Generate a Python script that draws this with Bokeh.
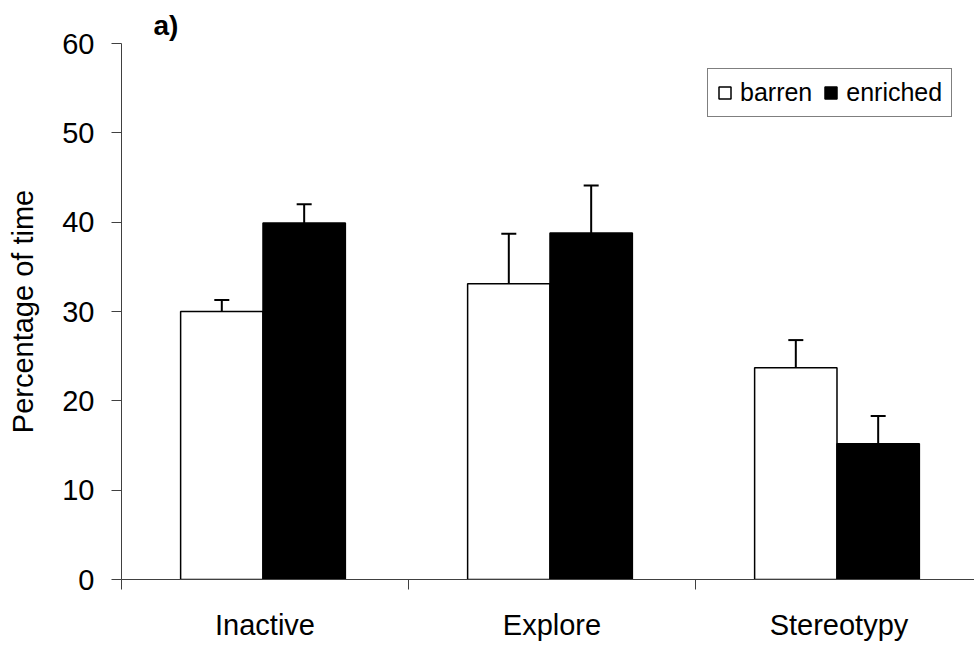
from bokeh.plotting import figure
from bokeh.models import (FixedTicker, Range1d, Whisker, ColumnDataSource,
                          Legend, LegendItem, TeeHead)
from bokeh.embed import file_html
from bokeh.resources import INLINE

# ---- data ----
categories = ["Inactive", "Explore", "Stereotypy"]
barren = [30.0, 33.1, 23.7]
barren_err = [1.3, 5.6, 3.1]
enriched = [39.9, 38.8, 15.2]
enriched_err = [2.1, 5.3, 3.1]
y_ticks = [0, 10, 20, 30, 40, 50, 60]

FONT = "Liberation Sans"
W, H = 974, 645
LEFT, TOP, FRAME_H = 121, 43, 536

p = figure(width=W, height=H, output_backend="svg", toolbar_location=None,
           x_range=Range1d(0, (W - LEFT) / 287.0), y_range=Range1d(0, 60),
           min_border_left=LEFT, min_border_right=0, min_border_top=TOP,
           min_border_bottom=H - TOP - FRAME_H)

centers = [i + 0.5 for i in range(len(categories))]
BAR_W = 0.287
SHIFT = -0.007
bx = [c + SHIFT - BAR_W / 2 for c in centers]
ex = [c + SHIFT + BAR_W / 2 for c in centers]

src_b = ColumnDataSource(dict(x=bx, top=barren,
                              upper=[v + e for v, e in zip(barren, barren_err)]))
src_e = ColumnDataSource(dict(x=ex, top=enriched,
                              upper=[v + e for v, e in zip(enriched, enriched_err)]))

r1 = p.vbar(x="x", top="top", bottom=0, width=BAR_W, source=src_b,
            fill_color="white", line_color="black", line_width=1.5)
r2 = p.vbar(x="x", top="top", bottom=0, width=BAR_W, source=src_e,
            fill_color="black", line_color="black", line_width=1.5)

for src in (src_b, src_e):
    w = Whisker(source=src, base="x", lower="top", upper="upper", dimension="height",
                line_color="black", line_width=2, lower_head=None,
                upper_head=TeeHead(size=15, line_width=2, line_color="black"))
    p.add_layout(w)

# ---- axes ----
p.grid.visible = False
p.outline_line_color = None

p.xaxis.ticker = FixedTicker(ticks=centers, minor_ticks=[0, 1, 2, 3])
p.xaxis.major_label_overrides = {c: name for c, name in zip(centers, categories)}
p.xaxis.major_tick_out = 0
p.xaxis.major_tick_in = 0
p.xaxis.minor_tick_out = 10
p.xaxis.minor_tick_in = 0
p.xaxis.major_label_standoff = 19

p.yaxis.ticker = FixedTicker(ticks=y_ticks, minor_ticks=[])
p.yaxis.major_tick_out = 10
p.yaxis.major_tick_in = 0
p.yaxis.major_label_standoff = 17
p.yaxis.axis_label = "Percentage of time"
p.yaxis.axis_label_standoff = 20

for ax in (p.xaxis[0], p.yaxis[0]):
    ax.axis_line_color = "#404040"
    ax.axis_line_width = 1
    ax.major_tick_line_color = "#404040"
    ax.minor_tick_line_color = "#404040"
    ax.major_label_text_font = FONT
    ax.major_label_text_font_size = "29px"
    ax.major_label_text_color = "black"
    ax.axis_label_text_font = FONT
    ax.axis_label_text_font_size = "29px"
    ax.axis_label_text_font_style = "normal"
    ax.axis_label_text_color = "black"

# ---- panel label ----
p.title.text = "a)"
p.title.align = "left"
p.title.offset = 32
p.title.standoff = 6
p.title.text_font = FONT
p.title.text_font_size = "28px"
p.title.text_font_style = "bold"
p.title.text_color = "black"

# ---- legend ----
legend = Legend(items=[LegendItem(label="barren", renderers=[r1]),
                       LegendItem(label="enriched", renderers=[r2])],
                orientation="horizontal", location=(586, 462),
                glyph_width=15, glyph_height=15, label_standoff=8, spacing=11,
                padding=9, margin=0, border_line_color="black", border_line_width=1,
                label_text_font=FONT, label_text_font_size="25px",
                label_text_color="black", background_fill_alpha=1)
p.add_layout(legend)

open("out.html", "w").write(file_html(p, INLINE))
